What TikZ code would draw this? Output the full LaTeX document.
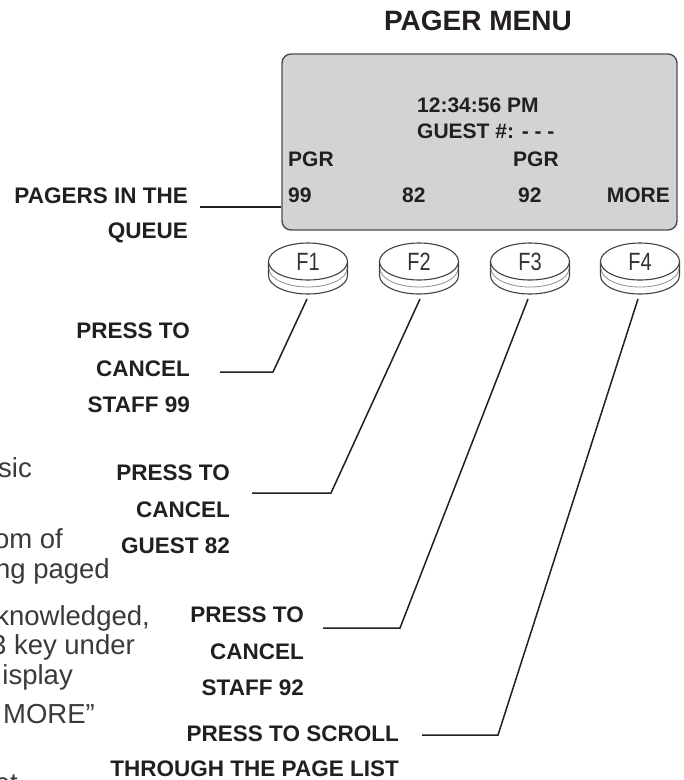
\documentclass[tikz,border=0pt]{standalone}
\usepackage{fontspec}
\setmainfont{Liberation Sans}
\newfontfamily\btnfont[FakeStretch=0.8]{Liberation Sans}
\usetikzlibrary{shapes.geometric}
\definecolor{lcdgray}{HTML}{D1D3D4}
\definecolor{lcdedge}{HTML}{4D4D4F}
\definecolor{ink}{HTML}{231F20}
\definecolor{bodyink}{HTML}{3A3A3C}
\begin{document}
\begin{tikzpicture}[x=1pt,y=-1pt,
  lbl/.style={anchor=base east, inner sep=0pt, text=ink, font=\bfseries\fontsize{22.5}{27}\selectfont},
  ttl/.style={anchor=base, inner sep=0pt, text=ink, font=\bfseries\fontsize{28}{32}\selectfont},
  lcdtxt/.style={anchor=base west, inner sep=0pt, text=ink, font=\bfseries\fontsize{21}{25}\selectfont},
  bodytxt/.style={anchor=base east, inner sep=0pt, text=bodyink, font=\fontsize{27.5}{31}\selectfont},
  leader/.style={draw=ink, line width=1.5pt},
  lcdbox/.style={draw=lcdedge, line width=1.4pt, fill=lcdgray, rounded corners=9pt, inner sep=0pt, minimum width=395pt, minimum height=176pt},
  btnkey/.style={draw=black!75, line width=1.1pt, ellipse, fill=white, inner sep=0pt, minimum width=79pt, minimum height=37pt, text=black!80, font=\btnfont\fontsize{25}{28}\selectfont},
  rim/.style={draw=black!75, line width=1.1pt},
  rimin/.style={draw=black!45, line width=0.8pt}
]
\useasboundingbox (0,0) rectangle (684,780);

% title
\node[ttl] (title) at (478,30) {PAGER MENU};

% LCD screen
\node[lcdbox] (lcd) at (479.5,142) {};
\node[lcdtxt] (time) at (417,112) {12:34:56 PM};
\node[lcdtxt] (guest) at (417,138) {GUEST \#: - - -};
\node[lcdtxt] (pgra) at (288,166) {PGR};
\node[lcdtxt] (pgrb) at (513,166) {PGR};
\node[lcdtxt] (n99) at (288,202) {99};
\node[lcdtxt] (n82) at (402,202) {82};
\node[lcdtxt] (n92) at (518,202) {92};
\node[lcdtxt, anchor=base east] (more) at (670,202) {MORE};

% function keys
\foreach \i/\x in {1/308,2/419,3/530,4/640}{
  \draw[rim] (\x-39.5,261.5) -- (\x-39.5,275.5) arc[start angle=180, end angle=0, x radius=39.5, y radius=18.5] -- (\x+39.5,261.5);
  \draw[rimin] (\x-39,268.5) arc[start angle=180, end angle=0, x radius=39, y radius=18.5];
  \node[btnkey] (F\i) at (\x,261.5) {F\i};
}

% labels
\node[lbl] (qa) at (188,203) {PAGERS IN THE};
\node[lbl] (qb) at (188,238) {QUEUE};
\coordinate (q1) at (200,207);
\draw[leader] (q1) -- (q1 -| lcd.west);

\node[lbl] (l1a) at (190,338) {PRESS TO};
\node[lbl] (l1b) at (190,376) {CANCEL};
\node[lbl] (l1c) at (190,412) {STAFF 99};

\node[lbl] (l2a) at (230,480) {PRESS TO};
\node[lbl] (l2b) at (230,517) {CANCEL};
\node[lbl] (l2c) at (230,553) {GUEST 82};

\node[lbl] (l3a) at (304,622) {PRESS TO};
\node[lbl] (l3b) at (304,659) {CANCEL};
\node[lbl] (l3c) at (304,695) {STAFF 92};

\node[lbl] (l4a) at (399,741) {PRESS TO SCROLL};
\node[lbl] (l4b) at (399,776) {THROUGH THE PAGE LIST};

% leader lines
\coordinate (t1) at (307,299); \coordinate (c1) at (273,372); \coordinate (e1) at (220,372);
\coordinate (t2) at (420,299); \coordinate (c2) at (331,493); \coordinate (e2) at (252,493);
\coordinate (t3) at (528,299); \coordinate (c3) at (400,628); \coordinate (e3) at (323,628);
\coordinate (t4) at (638,299); \coordinate (c4) at (498,735); \coordinate (e4) at (422,735);
\draw[leader] (t1) -- (c1) -- (e1);
\draw[leader] (t2) -- (c2) -- (e2);
\draw[leader] (t3) -- (c3) -- (e3);
\draw[leader] (t4) -- (c4) -- (e4);

% cut-off body text at the left edge
\begin{scope}
\clip (0,0) rectangle (684,780);
\node[bodytxt] (b1) at (32,477) {sic};
\node[bodytxt] (b2) at (63,548) {om of};
\node[bodytxt] (b3) at (110,578) {ng paged};
\node[bodytxt] (b4) at (150,625) {knowledged,};
\node[bodytxt] (b5) at (135,654) {3 key under};
\node[bodytxt] (b6) at (73,684) {isplay};
\node[bodytxt] (b7) at (95,723) {MORE”};
\node[bodytxt] (b8) at (18,792) {et};
\end{scope}
\end{tikzpicture}
\end{document}
